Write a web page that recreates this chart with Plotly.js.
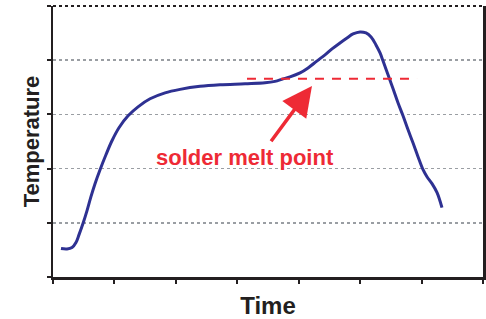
<!DOCTYPE html>
<html><head><meta charset="utf-8">
<script src="https://cdn.plot.ly/plotly-3.0.1.min.js"></script>
<style>html,body{margin:0;padding:0;background:#fff}#chart{width:486px;height:319px}</style>
</head><body><div id="chart"></div>
<script>
// Reflow profile (arbitrary units)
const timeVals = [6.5,11.4,15.5,18.7,21.2,24.4,27.7,30.9,34.2,38.3,43.1,48.0,53.7,61.1,69.2,79.0,91.2,103.4,119.7,135.9,156.3,172.6,180.7,187.2,192.9,201.1,207.6,215.0,221.4,227.1,233.6,239.3,244.2,249.9,254.8,258.9,262.9,266.2,268.6,272.7,276.8,280.8,284.9,289.0,293.0,297.1,301.2,304.4,308.5,312.6,316.6];
const tempVals = [26.2,25.8,27.2,31.8,39.1,49.3,61.2,74.1,86.1,99.0,112.8,125.7,137.7,148.7,157.0,164.4,169.9,173.1,175.9,177.3,178.2,179.1,180.5,182.8,184.6,188.3,192.9,199.4,204.9,210.4,215.9,220.5,224.2,226.1,225.1,221.5,214.1,206.7,199.4,186.5,173.6,160.7,148.7,135.8,123.8,111.0,99.0,92.5,86.1,77.8,64.0];
const meltTime = [157.9, 296.3];
const meltTemp = [182.8, 182.8];
const meltLabel = "solder melt point";
const labelPos = [156.3, 110];
const arrowHead = [210.8, 176.3];
const arrowTail = [176.6, 123.9];
const xTicks = [0,50,100,150,200,250,300,350];
const yTicks = [0,50,100,150,200,250];

const axisCol = '#231f20';
const fam = 'Liberation Sans, Arial, sans-serif';
const traces = [
  {x: timeVals, y: tempVals, type:'scatter', mode:'lines',
   line:{color:'#2e3192', width:3, shape:'spline', smoothing:1}, hoverinfo:'none'},
  {x: meltTime, y: meltTemp, type:'scatter', mode:'lines',
   line:{color:'#ee2a35', width:2, dash:'9px,8px'}, hoverinfo:'none'}
];
const layout = {
  width:486, height:319,
  margin:{l:53, r:3, t:6, b:42},
  paper_bgcolor:'#fff', plot_bgcolor:'#fff',
  showlegend:false,
  xaxis:{range:[0,350], tickvals:xTicks, showticklabels:false, ticks:'outside', ticklen:4, tickwidth:2, tickcolor:axisCol,
         showline:true, linecolor:axisCol, linewidth:2.5, showgrid:false, zeroline:false, fixedrange:true,
         title:{text:'Time', font:{family:fam, size:24, color:'#231f20', weight:'bold'}, standoff:15}},
  yaxis:{range:[0,250], tickvals:yTicks, showticklabels:false, ticks:'outside', ticklen:4, tickwidth:2, tickcolor:axisCol,
         showline:true, linecolor:axisCol, linewidth:2.5, mirror:'ticks', showgrid:true, gridcolor:'#9a9ea3', gridwidth:1.5, griddash:'dot',
         zeroline:false, fixedrange:true,
         title:{text:'Temperature', font:{family:fam, size:22, color:'#231f20', weight:'bold'}, standoff:1}},
  shapes:[
    {type:'line', xref:'paper', yref:'paper', x0:0, x1:1, y0:1, y1:1, line:{color:axisCol, width:2, dash:'dot'}}
  ],
  annotations:[
    {x:labelPos[0], y:labelPos[1], xref:'x', yref:'y', text:meltLabel, showarrow:false,
     font:{family:fam, size:22, color:'#ee2a35', weight:'bold'}},
    {x:arrowHead[0], y:arrowHead[1], ax:arrowTail[0], ay:arrowTail[1], xref:'x', yref:'y', axref:'x', ayref:'y',
     text:'', showarrow:true, arrowhead:2, arrowsize:1.7, arrowwidth:3.5, arrowcolor:'#ee2a35', standoff:0}
  ]
};
Plotly.newPlot('chart', traces, layout, {staticPlot:true, displayModeBar:false});
</script></body></html>
